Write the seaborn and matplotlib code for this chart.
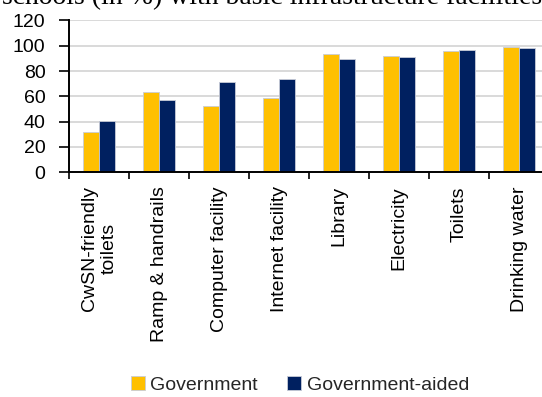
import matplotlib
matplotlib.use("Agg")
import matplotlib.pyplot as plt
from matplotlib.ticker import FixedLocator, NullFormatter
import seaborn as sns
import pandas as pd
import numpy as np

# Share of schools (%) with each basic facility
facilities = ["CwSN-friendly\ntoilets", "Ramp & handrails", "Computer facility",
              "Internet facility", "Library", "Electricity", "Toilets", "Drinking water"]
government = [31.8, 63.2, 52.4, 58.5, 93.4, 92.1, 95.8, 98.9]
government_aided = [40.5, 57.1, 71.1, 73.5, 89.3, 90.8, 96.4, 98.2]
series_names = ["Government", "Government-aided"]
y_ticks = [0, 20, 40, 60, 80, 100, 120]

df = pd.DataFrame({
    "Facility": facilities * 2,
    "Share": government + government_aided,
    "Type": [series_names[0]] * len(facilities) + [series_names[1]] * len(facilities),
})

sns.set_theme(style="white")
plt.rcParams["font.family"] = ["Liberation Sans", "DejaVu Sans"]

fig = plt.figure(figsize=(5.42, 3.97), dpi=100)
W, H = 542, 397
ax = fig.add_axes([69 / W, 1 - 172.3 / H, 480 / W, (172.3 - 20.4) / H])

palette = {"Government": "#FFC000", "Government-aided": "#002060"}
sns.barplot(data=df, x="Facility", y="Share", hue="Type", order=facilities,
            hue_order=series_names, palette=palette, width=0.54, dodge=True,
            saturation=1, edgecolor="#C8CCD8", linewidth=0.6, ax=ax, legend=True)

ax.set_ylim(0, 120)
ax.set_xlim(-0.5, len(facilities) - 0.5)
ax.set_yticks(y_ticks)
ax.set_yticklabels([str(t) for t in y_ticks], fontsize=14, color="black")
ax.yaxis.grid(True, color="#D9D9D9", linewidth=1.4)
ax.set_axisbelow(True)

ax.set_xticks(range(len(facilities)))
ax.set_xticklabels(facilities, rotation=90, fontsize=14, color="black",
                   va="top", ha="center", multialignment="center")
ax.tick_params(axis="x", which="major", length=0, pad=10)
ax.xaxis.set_minor_locator(FixedLocator(np.arange(-0.5, len(facilities), 1.0)))
ax.xaxis.set_minor_formatter(NullFormatter())
ax.tick_params(axis="x", which="minor", bottom=True, length=5, width=1.2, color="black")
ax.tick_params(axis="y", left=True, length=7, width=1.2, color="black", pad=10)

ax.set_xlabel("")
ax.set_ylabel("")
for side in ["top", "right"]:
    ax.spines[side].set_visible(False)
for side in ["left", "bottom"]:
    ax.spines[side].set_color("black")
    ax.spines[side].set_linewidth(1.4)

handles, labels = ax.get_legend_handles_labels()
ax.legend_.remove()
fig.legend(handles, labels, loc="center", bbox_to_anchor=(300 / W, 1 - 385 / H),
           ncol=2, frameon=False, fontsize=14, handlelength=0.7, handleheight=0.7,
           handletextpad=0.3, columnspacing=1.5, borderaxespad=0)

fig.text(2 / W, 1 - 4 / H, "schools (in %) with basic infrastructure facilities",
         fontsize=20, family=["Liberation Serif", "DejaVu Serif"], va="baseline",
         ha="left", color="black")

fig.savefig("out.png", dpi=100)
